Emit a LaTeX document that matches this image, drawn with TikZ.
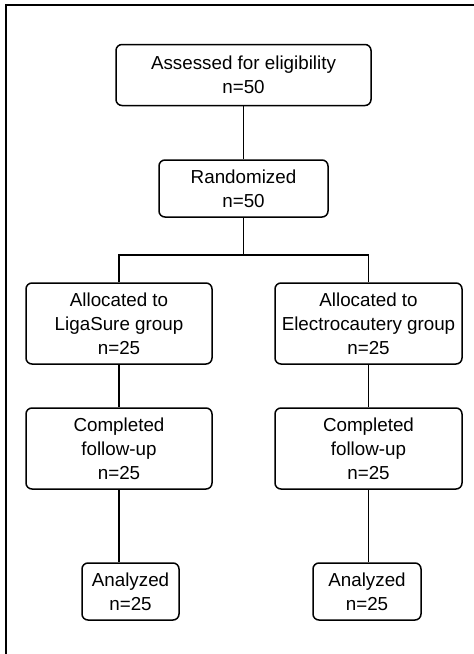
\documentclass[tikz,border=0pt]{standalone}
\usepackage{fontspec}
\setmainfont{Liberation Sans}
\usetikzlibrary{positioning}

\begin{document}
\begin{tikzpicture}[x=1pt, y=-1pt,
		stagebox/.style={draw, line width=1.5pt, rounded corners=6pt, align=center,
			inner sep=0pt, font=\fontsize{18.8}{23.8}\selectfont},
		link/.style={line width=1.6pt}]
			\useasboundingbox (0,0) rectangle (474,654);
			% outer frame, cut off at the right and bottom
			\draw[line width=2.3pt] (6.2,654) -- (6.2,5.3) -- (474,5.3);
			% top of the chart
			\node[stagebox, minimum width=255pt, minimum height=61pt] (assess) at (243.5,75) {Assessed for eligibility\\n=50};
			\node[stagebox, minimum width=169pt, minimum height=57pt] (rand) at (243.5,188.5) {Randomized\\n=50};
			\coordinate (split) at (243.5,255);
			% two arms
			\node[stagebox, minimum width=186pt, minimum height=81pt] (ligaalloc) at (119,323.5) {Allocated to\\LigaSure group\\n=25};
			\node[stagebox, minimum width=187pt, minimum height=81pt] (elecalloc) at (368.5,323.5) {Allocated to\\Electrocautery group\\n=25};
			\node[stagebox, minimum width=186pt, minimum height=81pt] (ligafollow) at (119,448.5) {Completed\\follow-up\\n=25};
			\node[stagebox, minimum width=187pt, minimum height=81pt] (elecfollow) at (368.5,448.5) {Completed\\follow-up\\n=25};
			\node[stagebox, minimum width=97pt, minimum height=57pt] (ligaanal) at (130.5,591.5) {Analyzed\\n=25};
			\node[stagebox, minimum width=108pt, minimum height=57pt] (elecanal) at (367,591.5) {Analyzed\\n=25};
			% connectors
			\draw[link] (assess) -- (rand);
			\draw[link] (rand) -- (split);
			\draw[link] (ligaalloc.north) |- (split) -| (elecalloc.north);
			\draw[link] (ligaalloc) -- (ligafollow);
			\draw[link] (elecalloc) -- (elecfollow);
			\draw[link] (ligafollow.south) -- (ligafollow.south |- ligaanal.north);
			\draw[link] (elecfollow.south) -- (elecfollow.south |- elecanal.north);
		\end{tikzpicture}
\end{document}
